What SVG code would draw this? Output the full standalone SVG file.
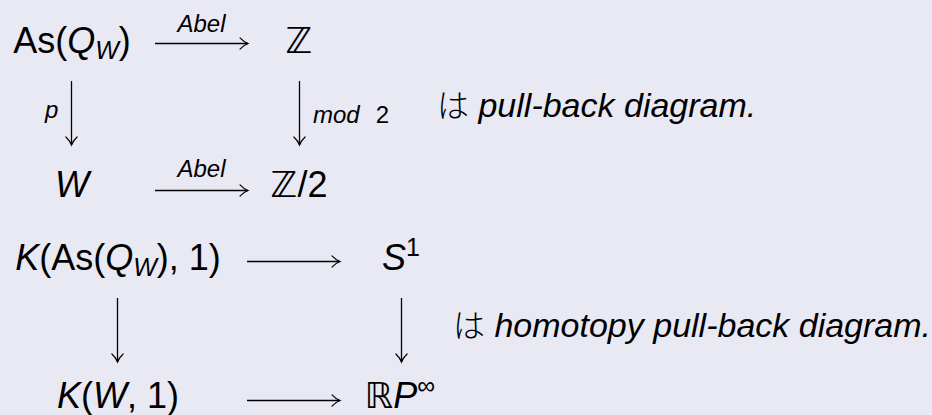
<svg xmlns="http://www.w3.org/2000/svg" width="932" height="415" viewBox="0 0 932 415">
<style>
  .m { font-family: "Liberation Sans", "DejaVu Sans", sans-serif; font-size: 36px; fill: #000; }
  .i { font-style: italic; }
  .sub { font-size: 25px; font-style: italic; }
  .sup { font-size: 25px; }
  .bb { font-family: "DejaVu Sans", "DejaVu Serif", sans-serif; font-weight: normal; }
  .lbl { font-family: "Liberation Sans", "DejaVu Sans", sans-serif; font-size: 24px; font-style: italic; fill: #000; }
  .txt { font-family: "Liberation Sans", "DejaVu Sans", sans-serif; font-size: 34px; font-style: italic; fill: #000; }
  .jp { font-family: "Noto Sans CJK JP", sans-serif; font-size: 32px; font-style: normal; font-weight: 300; }
  .ar { stroke: #000; stroke-width: 1.3; fill: none; marker-end: url(#head); }
</style>
<defs>
  <marker id="head" markerUnits="userSpaceOnUse" markerWidth="14" markerHeight="14" refX="9" refY="7" orient="auto" overflow="visible">
    <path d="M1,1.4 Q5,5.6 9,7 Q5,8.4 1,12.6" fill="none" stroke="#000" stroke-width="1.2" stroke-linecap="round"/>
  </marker>
</defs>
<rect width="932" height="415" fill="#e9e9f3"/>

<g id="connectors">
  <line class="ar" x1="155" y1="43.5" x2="248" y2="43.5"/>
  <line class="ar" x1="155" y1="190.5" x2="248" y2="190.5"/>
  <line class="ar" x1="71.5" y1="81" x2="71.5" y2="145"/>
  <line class="ar" x1="299.5" y1="81" x2="299.5" y2="145"/>
  <line class="ar" x1="247" y1="261.5" x2="340" y2="261.5"/>
  <line class="ar" x1="247" y1="400.5" x2="340" y2="400.5"/>
  <line class="ar" x1="117.5" y1="298" x2="117.5" y2="362"/>
  <line class="ar" x1="401.5" y1="298" x2="401.5" y2="362"/>
  <text class="lbl" x="201.5" y="32" text-anchor="middle">Abel</text>
  <text class="lbl" x="201.5" y="177" text-anchor="middle">Abel</text>
  <text class="lbl" x="45" y="118">p</text>
  <text class="lbl" x="313" y="123">mod<tspan font-style="normal" dx="16">2</tspan></text>
</g>

<g id="n-asqw">
  <text class="m" x="72" y="53" text-anchor="middle">As(<tspan class="i">Q</tspan><tspan class="sub" dy="6">W</tspan><tspan dy="-6">)</tspan></text>
</g>
<g id="n-z">
  <text class="m bb" x="299" y="53" text-anchor="middle">ℤ</text>
</g>
<g id="n-w">
  <text class="m i" x="72" y="197" text-anchor="middle">W</text>
</g>
<g id="n-z2">
  <text class="m" x="299" y="197" text-anchor="middle"><tspan class="bb">ℤ</tspan>/2</text>
</g>
<g id="note1">
  <text class="txt" x="437" y="117"><tspan class="jp">は</tspan> pull-back diagram.</text>
</g>

<g id="n-kas">
  <text class="m" x="118" y="270" text-anchor="middle"><tspan class="i">K</tspan>(As(<tspan class="i">Q</tspan><tspan class="sub" dy="6">W</tspan><tspan dy="-6">), 1)</tspan></text>
</g>
<g id="n-s1">
  <text class="m" x="401" y="270" text-anchor="middle"><tspan class="i">S</tspan><tspan class="sup" dy="-14">1</tspan></text>
</g>
<g id="n-kw">
  <text class="m" x="118" y="408" text-anchor="middle"><tspan class="i">K</tspan>(<tspan class="i">W</tspan>, 1)</text>
</g>
<g id="n-rp">
  <text class="m" x="400" y="408" text-anchor="middle"><tspan class="bb">ℝ</tspan><tspan class="i">P</tspan><tspan class="sup" dy="-14">∞</tspan></text>
</g>
<g id="note2">
  <text class="txt" x="453" y="337"><tspan class="jp">は</tspan> homotopy pull-back diagram.</text>
</g>
</svg>
